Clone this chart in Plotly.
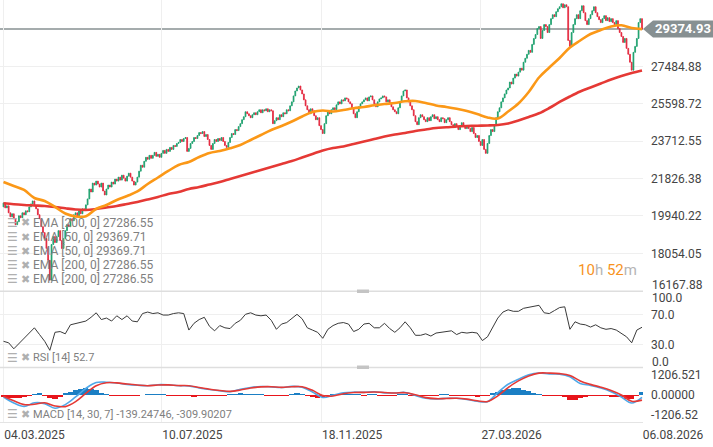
"""Daily candles with EMA 50/200, RSI and MACD panes."""

import numpy as np
import pandas as pd
import plotly.graph_objects as go
from plotly.subplots import make_subplots

# ---- data ----
START = "2025-03-04"
first_open = 20400
closes = [
    20600, 20350, 20450, 20100, 19900, 20050,
    19800, 19500, 19650, 19950, 19850, 20100,
    20000, 20200, 20150, 20400, 20550, 20700,
    20450, 20300, 20000, 19800, 19400, 19100,
    18800, 18300, 17700, 16700, 18500, 18900,
    18600, 18900, 19200, 18700, 18300, 18800,
    19200, 19500, 19400, 19800, 19700, 20000,
    20100, 19900, 20200, 20050, 20300, 20250,
    20500, 20800, 21300, 21150, 21600, 21500,
    21700, 21550, 21400, 21600, 21200, 21000,
    21300, 21500, 21400, 21650, 21550, 21800,
    21700, 21900, 21750, 22000, 21850, 21700,
    21950, 22100, 21900, 21700, 21500, 21650,
    21900, 22200, 22500, 22400, 22700, 22900,
    22800, 23000, 22850, 23000, 23150, 22950,
    23050, 22900, 23100, 23250, 23100, 23300,
    23200, 23400, 23300, 23500, 23450, 23600,
    23650, 23800, 23700, 23850, 23900, 23200,
    23350, 23600, 23700, 23900, 23850, 24000,
    24150, 24100, 24200, 23950, 24050, 23800,
    23500, 23300, 23600, 23800, 23700, 23850,
    23750, 23900, 23700, 23500, 23400, 23650,
    23900, 24100, 24050, 24300, 24250, 24450,
    24600, 24800, 24950, 25200, 25100, 25000,
    24900, 25050, 25150, 25050, 25200, 25300,
    25150, 25300, 25250, 25350, 25200, 25300,
    25250, 24600, 24750, 24900, 24800, 25050,
    24950, 25150, 25100, 25300, 25250, 25500,
    25700, 26000, 26250, 26400, 26500, 26300,
    26100, 25800, 25500, 25300, 25100, 25350,
    25250, 25000, 24800, 24900, 24500, 24300,
    24100, 24600, 25000, 25200, 25100, 25300,
    25400, 25300, 25550, 25700, 25600, 25800,
    25750, 25900, 25850, 25700, 25600, 25350,
    25100, 24900, 25200, 25450, 25600, 25700,
    25800, 25900, 25750, 25950, 26000, 25800,
    25600, 25450, 25700, 25850, 25900, 26000,
    25950, 25700, 25800, 25600, 25450, 25300,
    25200, 25100, 25400, 25700, 26000, 26250,
    26300, 25900, 25700, 25500, 25300, 25000,
    24700, 24550, 24900, 25050, 24950, 24800,
    24700, 24900, 24750, 24950, 25050, 24850,
    24950, 24800, 24700, 24900, 24850, 24650,
    24800, 24900, 24700, 24550, 24400, 24600,
    24450, 24300, 24500, 24650, 24500, 24350,
    24500, 24350, 24200, 24400, 24100, 23900,
    24000, 23700, 23500, 23800, 23300, 23100,
    23600, 24000, 24300, 24200, 24500, 24900,
    25200, 25400, 25700, 25900, 26100, 26300,
    26400, 26700, 26600, 26900, 27100, 27000,
    27200, 27400, 27300, 27700, 27900, 28100,
    28300, 28200, 28600, 28900, 29100, 29400,
    29500, 28900, 29300, 29600, 29500, 29200,
    29600, 29900, 30100, 30000, 30250, 30400,
    30500, 30650, 30450, 30600, 30500, 28800,
    28500, 29200, 29600, 29900, 30100, 29900,
    30300, 30550, 30200, 29800, 29600, 29900,
    30100, 30300, 30500, 30200, 30000, 29850,
    29700, 29900, 30050, 29800, 29950, 29750,
    29900, 29700, 29600, 29800, 29400, 29200,
    29000, 28700, 28900, 28400, 28100, 27700,
    27300, 28200, 28500, 28900, 29700, 29900, 29374.93,
]

# every 6th session
ema50 = [
    21656, 21454, 21252, 20848, 20697, 20394, 20066, 19914, 19924, 20293,
    20495, 20747, 20949, 21176, 21554, 21883, 22211, 22513, 22665, 22917,
    23119, 23220, 23356, 23523, 23775, 24028, 24280, 24482, 24709, 24961,
    25189, 25264, 25214, 25289, 25375, 25441, 25527, 25592, 25643, 25728,
    25743, 25643, 25517, 25441, 25350, 25239, 25087, 24911, 24860, 25214,
    25617, 26198, 26930, 27434, 27914, 28444, 28797, 29125, 29327, 29504,
    29564, 29428, 29369.71,
]
ema200 = [
    20581, 20530, 20495, 20470, 20444, 20394, 20328, 20268, 20243, 20293,
    20369, 20444, 20545, 20646, 20772, 20898, 21050, 21151, 21302, 21403,
    21529, 21655, 21807, 21958, 22110, 22261, 22413, 22564, 22715, 22892,
    23069, 23245, 23371, 23447, 23573, 23700, 23826, 23952, 24053, 24129,
    24230, 24305, 24381, 24416, 24457, 24482, 24497, 24507, 24532, 24608,
    24759, 24936, 25123, 25390, 25693, 25971, 26223, 26425, 26627, 26829,
    27005, 27157, 27286.55,
]
macd_line = [
    -120, -480, -690, -470, -520, -800, -580, -120, 400, 750,
    770, 720, 640, 590, 560, 620, 610, 560, 550, 420,
    330, 260, 200, 340, 450, 510, 490, 450, 520, 470,
    180, -150, -20, 130, 170, 160, 200, 130, 120, 150,
    -30, -200, -240, -200, -200, -270, -380, -400, 150, 650,
    950, 1220, 1330, 1270, 1260, 1100, 700, 580, 420, 200,
    -120, -480, -139.24746,
]
macd_signal = [
    -80, -350, -580, -560, -470, -660, -700, -400, 100, 560,
    740, 730, 660, 600, 560, 600, 610, 570, 560, 450,
    350, 270, 220, 300, 420, 490, 500, 460, 500, 500,
    280, -30, -60, 80, 150, 160, 180, 150, 120, 140,
    20, -160, -220, -210, -200, -250, -350, -390, -50, 450,
    850, 1150, 1320, 1320, 1290, 1180, 850, 640, 470, 270,
    0, -380, -309.90207,
]

# every 3rd session
macd_hist = [
    -150, -200, -200, -180, -120, -40, 60, 100, -60, -200,
    -250, -150, 80, 200, 330, 390, 400, 370, 300, 150,
    40, -20, -30, -40, -20, -10, -30, 0, 20, 30,
    30, 10, -10, -30, -20, -30, -60, -90, -60, -40,
    -30, -30, -20, -10, 20, 60, 80, 60, 40, 20,
    10, -20, -30, -60, -50, -20, 60, 100, 60, -60,
    -150, -180, -140, -40, 40, 60, 50, 30, 20, 10,
    -10, 10, 20, -10, -30, -40, -20, 10, 20, -40,
    -60, -80, -50, -30, -10, 10, 10, -10, -10, -10,
    -30, -50, -70, -60, -20, 100, 200, 300, 380, 420,
    400, 320, 220, 120, 40, -30, -50, -40, -60, -150,
    -280, -300, -180, -80, -60, -50, -50, -60, -70, -100,
    -150, -220, -240, -60, 170.65,
]
rsi = [
    34, 32, 24, 31, 38, 46, 52, 43, 34, 22,
    46, 47, 44, 56, 58, 59, 61, 66, 72, 63,
    65, 61, 68, 63, 68, 61, 60, 71, 73, 71,
    72, 69, 69, 71, 72, 71, 49, 58, 63, 66,
    54, 48, 55, 52, 51, 58, 62, 70, 72, 69,
    68, 69, 62, 50, 57, 59, 65, 70, 64, 52,
    49, 46, 38, 50, 55, 58, 59, 57, 47, 50,
    57, 58, 52, 52, 58, 51, 46, 52, 60, 52,
    42, 42, 44, 41, 45, 46, 48, 48, 43, 46,
    45, 46, 45, 35, 40, 53, 65, 73, 76, 74,
    74, 78, 79, 81, 82, 72, 71, 75, 79, 80,
    50, 60, 57, 56, 53, 56, 52, 50, 51, 49,
    44, 40, 32, 49, 52.7,
]

price_ticks = [18054.05, 19940.22, 21826.38, 23712.55, 25598.72, 27484.88]
price_bottom = 16167.88
last_price = 29374.93
rsi_ticks = [30, 70]
macd_ticks = [-1206.52, 0, 1206.521]
macd_tick_text = ["-1206.52", "0.00000", "1206.521"]
date_ticks = ["2025-03-04", "2025-07-10", "2025-11-18", "2026-03-27", "2026-08-06"]
date_tick_text = ["04.03.2025", "10.07.2025", "18.11.2025", "27.03.2026", "06.08.2026"]
ema_labels = [
    "EMA [200, 0] 27286.55",
    "EMA [50, 0] 29369.71",
    "EMA [50, 0] 29369.71",
    "EMA [200, 0] 27286.55",
    "EMA [200, 0] 27286.55",
]
rsi_label = "RSI [14] 52.7"
macd_label = "MACD [14, 30, 7] -139.24746, -309.90207"

# ---- derived series ----
dates = pd.bdate_range(START, periods=len(closes)).strftime("%Y-%m-%d").tolist()
opens = [first_open] + closes[:-1]
highs = np.maximum(opens, closes)
lows = np.minimum(opens, closes)
ema_x = dates[::6]
osc_x = dates[::3]

# ---- styling ----
W, H = 713, 447
ML, MR, MT, MB = 0, 70, 0, 25
PW, PH = W - ML - MR, H - MT - MB
FONT = "Roboto"
GREEN = "#1aa06c"
RED = "#e3243b"
GRID = "#efefef"
AXIS_TXT = "#444444"
LEGEND_TXT = "#808080"
ICON = "#b0b0b0"


def px(x):
    return x / PW


def py(y):
    return 1 - y / PH


fig = make_subplots(rows=3, cols=1, shared_xaxes=True)

fig.add_trace(
    go.Candlestick(
        x=dates, open=opens, high=highs, low=lows, close=closes,
        increasing=dict(line=dict(color=GREEN, width=0.8), fillcolor=GREEN),
        decreasing=dict(line=dict(color=RED, width=0.8), fillcolor=RED),
        whiskerwidth=0, showlegend=False, hoverinfo="skip",
    ),
    row=1, col=1,
)
fig.add_trace(go.Scatter(x=ema_x, y=ema200, mode="lines", line=dict(color="#e53935", width=2.6, shape="spline"),
                         showlegend=False, hoverinfo="skip"), row=1, col=1)
fig.add_trace(go.Scatter(x=ema_x, y=ema50, mode="lines", line=dict(color="#fb9817", width=2.6, shape="spline"),
                         showlegend=False, hoverinfo="skip"), row=1, col=1)

fig.add_trace(go.Scatter(x=osc_x, y=rsi, mode="lines", line=dict(color="#3a3a3a", width=1),
                         showlegend=False, hoverinfo="skip"), row=2, col=1)

fig.add_trace(go.Bar(x=osc_x, y=macd_hist, width=3,
                     marker=dict(color=["#1b7fc4" if v >= 0 else "#e8151b" for v in macd_hist], line=dict(width=0)),
                     showlegend=False, hoverinfo="skip"), row=3, col=1)
fig.add_trace(go.Scatter(x=ema_x, y=macd_line, mode="lines", line=dict(color="#4fa8e8", width=1.6, shape="spline"),
                         showlegend=False, hoverinfo="skip"), row=3, col=1)
fig.add_trace(go.Scatter(x=ema_x, y=macd_signal, mode="lines", line=dict(color="#e53935", width=1.6, shape="spline"),
                         showlegend=False, hoverinfo="skip"), row=3, col=1)

# x axes: one slot per session, so the sessions are evenly spaced
unit = (642.0 - 3.5) / (len(closes) - 1)
x_lo = -3.5 / unit
x_range = [x_lo, x_lo + PW / unit]
for name in ("xaxis", "xaxis2", "xaxis3"):
    fig.layout[name].update(
        type="category", categoryorder="array", categoryarray=dates, range=x_range,
        tickvals=date_ticks, ticktext=date_tick_text, showgrid=True, gridcolor=GRID, gridwidth=1,
        showticklabels=(name == "xaxis3"), ticks="", zeroline=False, showline=False,
        rangeslider=dict(visible=False),
    )
fig.layout.xaxis3.update(tickfont=dict(family=FONT, size=12, color=AXIS_TXT), ticklabelshift=31,
                         ticklabelstandoff=2, showline=True, linecolor="#e4e4e4", linewidth=1)

top_price = price_ticks[-1] + 66.5 * (price_ticks[-1] - price_ticks[-2]) / 37.37
fig.update_layout(
    yaxis=dict(domain=[py(290.7), 1], range=[price_bottom, top_price], side="right",
               tickvals=price_ticks, ticktext=[f"{v:.2f}" for v in price_ticks]),
    yaxis2=dict(domain=[py(366.8), py(291.8)], range=[0, 100], side="right",
                tickvals=rsi_ticks, ticktext=[f"{v:.1f}" for v in rsi_ticks]),
    yaxis3=dict(domain=[0, py(368)], range=[-1628.8, 1628.8], side="right",
                tickvals=macd_ticks, ticktext=macd_tick_text, showgrid=False),
)
for name in ("yaxis", "yaxis2", "yaxis3"):
    fig.layout[name].update(tickfont=dict(family=FONT, size=12, color=AXIS_TXT), gridcolor=GRID,
                            zeroline=False, showline=False, ticks="", ticklabelstandoff=7)
fig.layout.yaxis3.showgrid = False

shapes = [
    # last price line and its tag
    dict(type="line", xref="paper", yref="y", x0=0, x1=1, y0=last_price, y1=last_price,
         line=dict(color="#879092", width=1.5), layer="below"),
    dict(type="path", xref="paper", yref="paper", layer="above", fillcolor="#879092", line=dict(width=0),
         path=f"M {px(643)} {py(29)} L {px(653)} {py(20.5)} L {px(713)} {py(20.5)} "
              f"L {px(713)} {py(37.5)} L {px(653)} {py(37.5)} Z"),
    # pane separators and drag handles
    dict(type="line", xref="paper", yref="paper", x0=0, x1=1, y0=py(291.3), y1=py(291.3),
         line=dict(color="#dedede", width=1.5)),
    dict(type="line", xref="paper", yref="paper", x0=0, x1=1, y0=py(367.4), y1=py(367.4),
         line=dict(color="#dedede", width=1.5)),
    dict(type="rect", xref="paper", yref="paper", x0=px(357), x1=px(369), y0=py(293), y1=py(289.5),
         fillcolor="#c4c4c4", line=dict(width=0)),
    dict(type="rect", xref="paper", yref="paper", x0=px(357), x1=px(369), y0=py(369), y1=py(365.5),
         fillcolor="#c4c4c4", line=dict(width=0)),
]

annotations = [
    dict(x=px(683), xanchor="center", y=py(29), text=f"<b>{last_price:.2f}</b>",
         font=dict(family=FONT, size=13, color="white")),
    dict(x=1, xshift=7, xanchor="left", y=py(285), text=f"{price_bottom:.2f}",
         font=dict(family=FONT, size=12, color=AXIS_TXT)),
    dict(x=1, xshift=7, xanchor="left", y=py(298), text="100.0", font=dict(family=FONT, size=12, color=AXIS_TXT)),
    dict(x=1, xshift=7, xanchor="left", y=py(362), text="0.0", font=dict(family=FONT, size=12, color=AXIS_TXT)),
    dict(x=px(639), xanchor="right", y=py(270),
         text='<span style="color:#f7931e">10</span><span style="color:#b5b5b5">h</span> '
              '<span style="color:#f7931e">52</span><span style="color:#b5b5b5">m</span>',
         font=dict(family=FONT, size=15)),
]

label_rows = [(ema_labels[i], 223 + 14 * i, 12) for i in range(len(ema_labels))]
label_rows += [(rsi_label, 357.5, 11), (macd_label, 414, 11)]
for text, y, size in label_rows:
    annotations.append(dict(x=px(5), xanchor="left", y=py(y), text="☰",
                            font=dict(family="DejaVu Sans", size=12, color=ICON)))
    annotations.append(dict(x=px(19), xanchor="left", y=py(y), text="✖",
                            font=dict(family="DejaVu Sans", size=11, color=ICON)))
    annotations.append(dict(x=px(31), xanchor="left", y=py(y), text=text,
                            font=dict(family=FONT, size=size, color=LEGEND_TXT)))

for a in annotations:
    a.setdefault("xref", "paper")
    a.setdefault("yref", "paper")
    a["yanchor"] = "middle"
    a["showarrow"] = False

fig.update_layout(
    width=W, height=H,
    margin=dict(l=ML, r=MR, t=MT, b=MB),
    paper_bgcolor="white", plot_bgcolor="white",
    showlegend=False, bargap=0,
    shapes=shapes, annotations=annotations,
    font=dict(family=FONT),
)

# the page body has a default margin; drop it so the figure sits at the window corner
fig.write_html(
    "out.html",
    config={"displayModeBar": False},
    post_script="document.body.style.margin='0';document.body.style.overflow='hidden';",
)
